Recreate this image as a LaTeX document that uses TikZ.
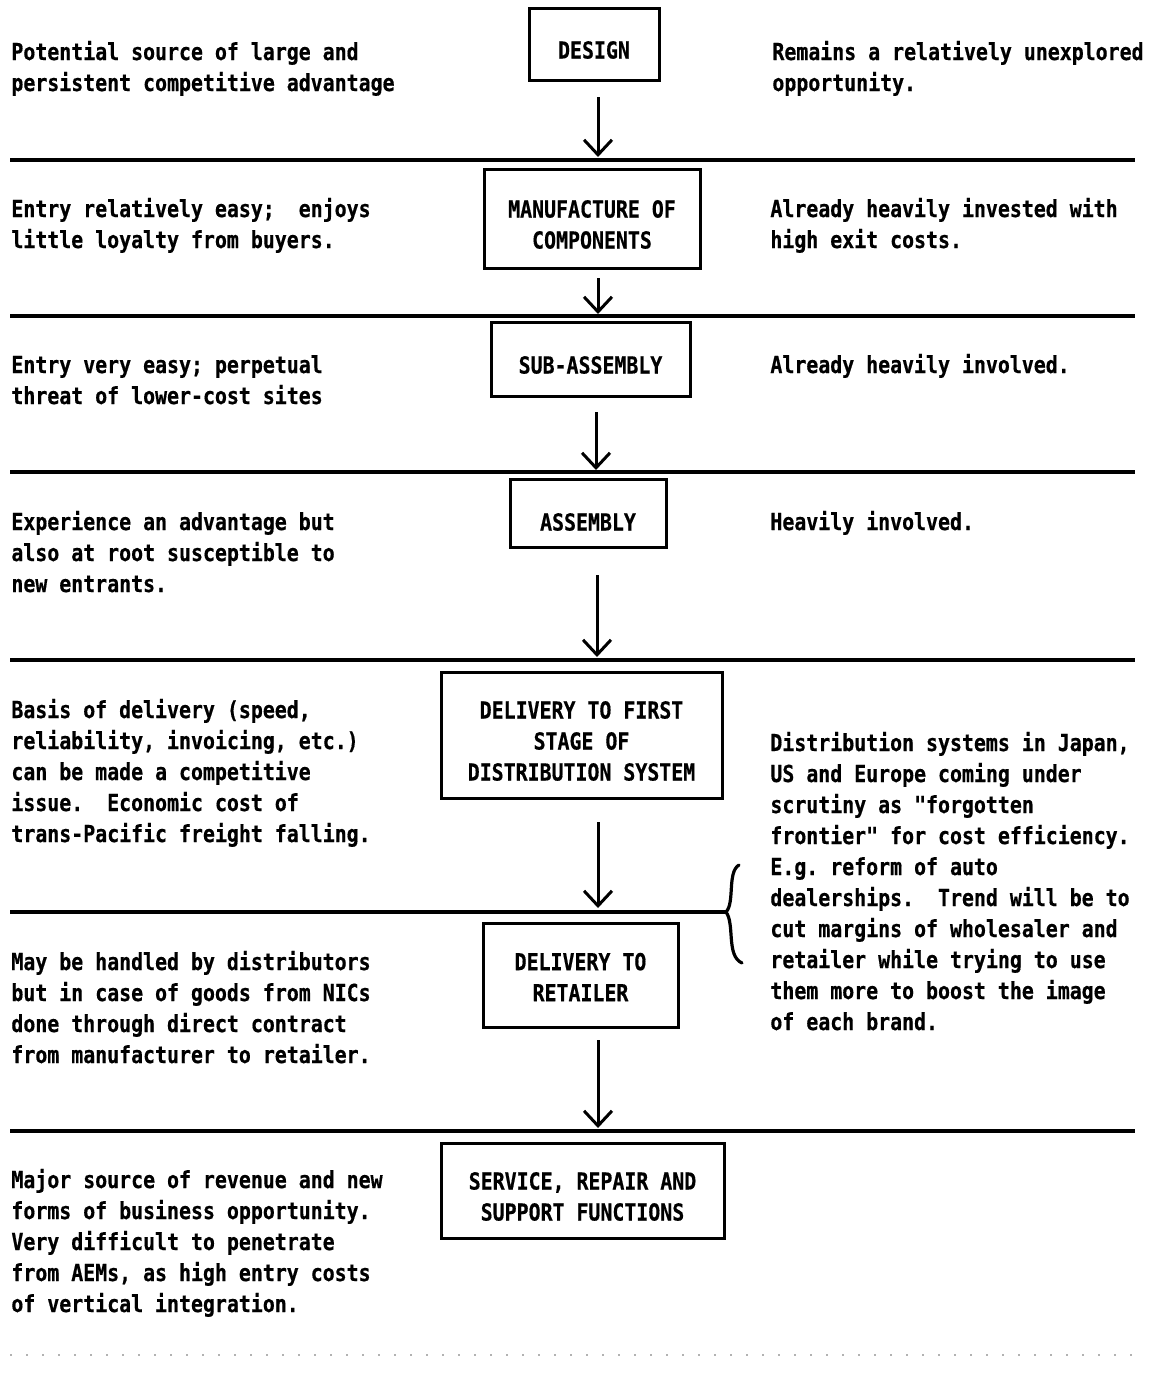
\documentclass[tikz,border=0pt]{standalone}
\usepackage{fontspec}
\newfontfamily\twfont[FakeStretch=0.85,FakeBold=0.5]{DejaVu Sans Mono}
\usetikzlibrary{arrows.meta}
\newcommand\mytab[1]{\begin{tabular}[t]{@{}l@{}}#1\end{tabular}}
\frenchspacing
\begin{document}
\begin{tikzpicture}[x=0.5pt,y=-0.5pt,
  tfont/.style={font=\twfont\bfseries\fontsize{11.7}{15.5}\selectfont},
  txt/.style={tfont, anchor=base west, inner sep=0pt},
  box/.style={draw, line width=1.5pt, inner sep=0pt},
  boxtxt/.style={tfont, align=center, inner sep=0pt, yshift=-3pt},
  arr/.style={line width=1.5pt, -{Straight Barb[length=7.5pt,width=14pt,line width=1.5pt]}},
  sep/.style={line width=1.6pt}]
\fill[white] (0,0) rectangle (1154,1377);
\useasboundingbox (0,0) rectangle (1154,1377);

% boxes
\node[box, minimum width=65pt, minimum height=36pt] (design) at (594,44) {};
\node[box, minimum width=108pt, minimum height=49.5pt] (manuf) at (592,218.5) {};
\node[box, minimum width=99.5pt, minimum height=37pt] (sub) at (590.5,359) {};
\node[box, minimum width=78pt, minimum height=34pt] (assembly) at (588,513) {};
\node[box, minimum width=140.5pt, minimum height=63pt] (first) at (581.5,735) {};
\node[box, minimum width=97.5pt, minimum height=52pt] (retail) at (580.5,975) {};
\node[box, minimum width=141.5pt, minimum height=47.5pt] (service) at (582.5,1190.5) {};
\node[boxtxt] (design-t) at (design.center) {DESIGN};
\node[boxtxt] (manuf-t) at (manuf.center) {MANUFACTURE OF\\COMPONENTS};
\node[boxtxt] (sub-t) at (sub.center) {SUB-ASSEMBLY};
\node[boxtxt, yshift=-1.5pt] (assembly-t) at (assembly.center) {ASSEMBLY};
\node[boxtxt] (first-t) at (first.center) {DELIVERY TO FIRST\\STAGE OF\\DISTRIBUTION SYSTEM};
\node[boxtxt, yshift=2pt] (retail-t) at (retail.center) {DELIVERY TO\\RETAILER};
\node[boxtxt] (service-t) at (service.center) {SERVICE, REPAIR AND\\SUPPORT FUNCTIONS};

% separator lines
\coordinate (s1a) at (10,160); \coordinate (s1b) at (1135,160);
\coordinate (s2a) at (10,316); \coordinate (s2b) at (1135,316);
\coordinate (s3a) at (10,472); \coordinate (s3b) at (1135,472);
\coordinate (s4a) at (10,660); \coordinate (s4b) at (1135,660);
\coordinate (s5a) at (10,912); \coordinate (s5b) at (727,912);
\coordinate (s6a) at (10,1131); \coordinate (s6b) at (1135,1131);
\draw[sep] (s1a) -- (s1b);
\draw[sep] (s2a) -- (s2b);
\draw[sep] (s3a) -- (s3b);
\draw[sep] (s4a) -- (s4b);
\draw[sep] (s5a) -- (s5b);
\draw[sep] (s6a) -- (s6b);

% arrows
\coordinate (a1s) at (598,97);   \coordinate (a1e) at (598,157);
\coordinate (a2s) at (598,278);  \coordinate (a2e) at (598,314);
\coordinate (a3s) at (596,412);  \coordinate (a3e) at (596,470);
\coordinate (a4s) at (597,575);  \coordinate (a4e) at (597,657);
\coordinate (a5s) at (598,822);  \coordinate (a5e) at (598,908);
\coordinate (a6s) at (598,1040); \coordinate (a6e) at (598,1128);
\draw[arr] (a1s) -- (a1e);
\draw[arr] (a2s) -- (a2e);
\draw[arr] (a3s) -- (a3e);
\draw[arr] (a4s) -- (a4e);
\draw[arr] (a5s) -- (a5e);
\draw[arr] (a6s) -- (a6e);

% brace
\coordinate (bt) at (739,865);
\coordinate (bm) at (726,912);
\coordinate (bb) at (742,963);
\draw[line width=1.6pt, line cap=round] (bt) .. controls (727,872) and (735,903) .. (bm)
  .. controls (735,924) and (726,956) .. (bb);

% left texts
\node[txt] (l1) at (11,60) {\mytab{Potential source of large and\\persistent competitive advantage}};
\node[txt] (l2) at (11,217) {\mytab{Entry relatively easy;\ \ enjoys\\little loyalty from buyers.}};
\node[txt] (l3) at (11,373) {\mytab{Entry very easy; perpetual\\threat of lower-cost sites}};
\node[txt] (l4) at (11,530) {\mytab{Experience an advantage but\\also at root susceptible to\\new entrants.}};
\node[txt] (l5) at (11,718) {\mytab{Basis of delivery (speed,\\reliability, invoicing, etc.)\\can be made a competitive\\issue.\ \ Economic cost of\\trans-Pacific freight falling.}};
\node[txt] (l6) at (11,970) {\mytab{May be handled by distributors\\but in case of goods from NICs\\done through direct contract\\from manufacturer to retailer.}};
\node[txt] (l7) at (11,1188) {\mytab{Major source of revenue and new\\forms of business opportunity.\\Very difficult to penetrate\\from AEMs, as high entry costs\\of vertical integration.}};

% right texts
\node[txt] (r1) at (772,60) {\mytab{Remains a relatively unexplored\\opportunity.}};
\node[txt] (r2) at (770,217) {\mytab{Already heavily invested with\\high exit costs.}};
\node[txt] (r3) at (770,373) {\mytab{Already heavily involved.}};
\node[txt] (r4) at (770,530) {\mytab{Heavily involved.}};
\node[txt] (r5) at (770,751) {\mytab{Distribution systems in Japan,\\US and Europe coming under\\scrutiny as "forgotten\\frontier" for cost efficiency.\\E.g. reform of auto\\dealerships.\ \ Trend will be to\\cut margins of wholesaler and\\retailer while trying to use\\them more to boost the image\\of each brand.}};

% faint scan specks at the bottom
\coordinate (n1) at (10,1355); \coordinate (n2) at (1135,1355);
\draw[gray!60, line width=1pt, dash pattern=on 1pt off 7pt] (n1) -- (n2);
\end{tikzpicture}
\end{document}
